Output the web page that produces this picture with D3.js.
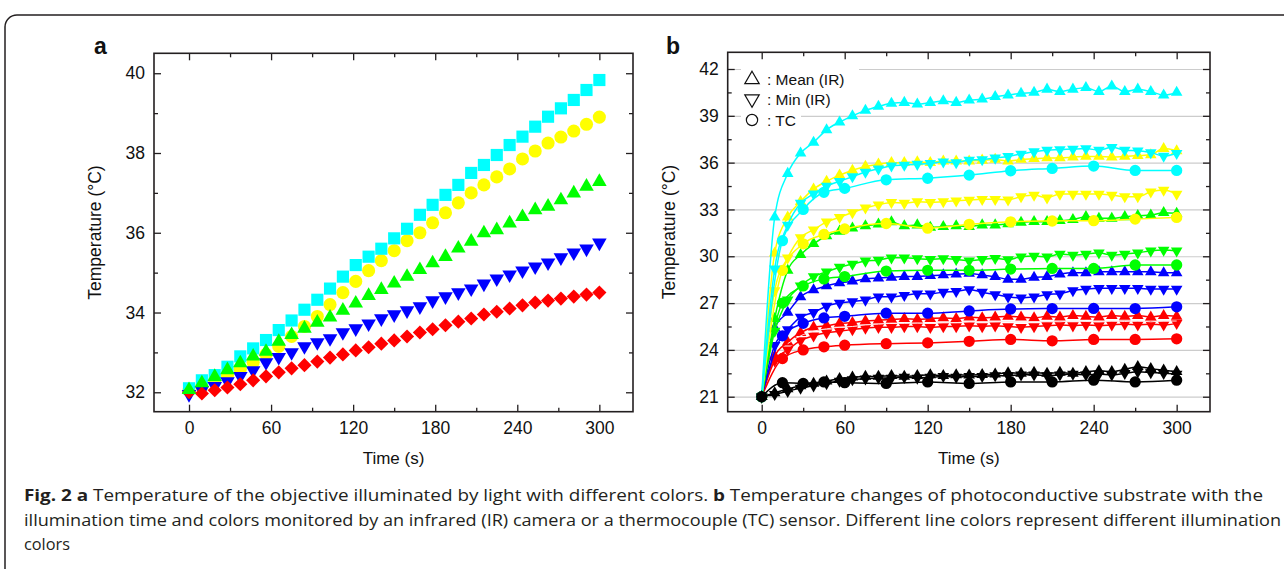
<!DOCTYPE html>
<html>
<head>
<meta charset="utf-8">
<script src="https://cdn.jsdelivr.net/npm/d3@7"></script>
<style>
  body { margin: 0; background: #fff; }
  svg { display: block; font-family: "Liberation Sans", Arial, sans-serif; }
</style>
</head>
<body>
<svg width="1284" height="569"></svg>
<script>
// sampling times (s)
const timeIR = [0, 9.4, 18.8, 28.1, 37.5, 46.9, 56.3, 65.6, 75, 84.4, 93.8, 103.1, 112.5, 121.9, 131.3, 140.6,
  150, 159.4, 168.8, 178.1, 187.5, 196.9, 206.3, 215.6, 225, 234.4, 243.8, 253.1, 262.5, 271.9, 281.3, 290.6, 300];
const timeTC = [0, 15, 30, 45, 60, 90, 120, 150, 180, 210, 240, 270, 300];

// panel a
const cyanA = [32.1, 32.3, 32.43, 32.64, 32.9, 33.1, 33.31, 33.56, 33.8, 34.07, 34.32, 34.6, 34.9, 35.19, 35.4, 35.6,
  35.86, 36.1, 36.45, 36.7, 36.95, 37.2, 37.5, 37.7, 37.95, 38.2, 38.41, 38.66, 38.91, 39.12, 39.33, 39.58, 39.83];
const yellowA = [32.05, 32.15, 32.28, 32.42, 32.58, 32.75, 32.95, 33.15, 33.4, 33.65, 33.9, 34.2, 34.5, 34.78, 35.05, 35.3,
  35.55, 35.8, 36.0, 36.25, 36.5, 36.75, 37.0, 37.2, 37.4, 37.6, 37.85, 38.05, 38.25, 38.4, 38.55, 38.72, 38.9];
const greenA = [32.06, 32.23, 32.39, 32.56, 32.73, 32.9, 33.02, 33.27, 33.44, 33.6, 33.75, 33.88, 34.05, 34.23, 34.42, 34.57,
  34.73, 34.9, 35.07, 35.24, 35.4, 35.61, 35.78, 35.99, 36.07, 36.24, 36.4, 36.57, 36.66, 36.82, 36.99, 37.16, 37.28];
const blueA = [31.95, 32.05, 32.15, 32.27, 32.4, 32.55, 32.75, 32.88, 33.0, 33.15, 33.25, 33.35, 33.5, 33.6, 33.72, 33.85,
  33.95, 34.05, 34.15, 34.3, 34.4, 34.5, 34.6, 34.72, 34.85, 34.95, 35.05, 35.15, 35.25, 35.38, 35.5, 35.6, 35.75];
const redA = [32.0, 31.97, 32.05, 32.12, 32.2, 32.3, 32.4, 32.5, 32.6, 32.68, 32.77, 32.87, 32.95, 33.05, 33.13, 33.22,
  33.3, 33.4, 33.5, 33.58, 33.68, 33.77, 33.85, 33.95, 34.02, 34.1, 34.18, 34.25, 34.3, 34.35, 34.4, 34.45, 34.5];

// panel b : mean (IR), min (IR), thermocouple
const cyanMean = [21, 32.5, 35.3, 36.6, 37.3, 38.1, 38.6, 39.0, 39.35, 39.6, 39.8, 39.85, 39.75, 39.85, 39.95, 39.85,
  40.0, 40.06, 40.22, 40.33, 40.44, 40.5, 40.7, 40.55, 40.7, 40.8, 40.55, 40.9, 40.55, 40.7, 40.55, 40.33, 40.5];
const cyanMin = [21, 29.2, 32.0, 33.4, 34.0, 34.5, 34.8, 35.1, 35.4, 35.6, 35.8, 35.85, 35.9, 35.95, 36.05, 36.0,
  36.17, 36.2, 36.3, 36.4, 36.55, 36.7, 36.8, 36.83, 36.87, 36.9, 36.8, 36.98, 36.8, 36.75, 36.65, 36.42, 36.6];
const cyanTC = [21, 31.0, 33.0, 34.1, 34.35, 34.9, 35.0, 35.2, 35.48, 35.63, 35.78, 35.5, 35.5];

const yellowMean = [21, 30.2, 32.5, 33.5, 34.3, 34.8, 35.2, 35.5, 35.75, 35.9, 36.0, 36.0, 36.05, 36.0, 36.1, 36.1,
  36.1, 36.15, 36.2, 36.1, 36.2, 36.25, 36.3, 36.3, 36.35, 36.4, 36.4, 36.35, 36.4, 36.45, 36.5, 36.9, 36.75];
const yellowMin = [21, 27.8, 29.9, 31.2, 31.7, 32.2, 32.5, 32.8, 33.1, 33.3, 33.45, 33.4, 33.5, 33.45, 33.5, 33.55,
  33.6, 33.65, 33.65, 33.62, 33.82, 33.92, 33.75, 33.99, 33.99, 33.99, 33.99, 33.92, 33.82, 33.82, 34.13, 34.24, 33.99];
const yellowTC = [21, 29.1, 30.8, 31.4, 31.75, 32.1, 31.8, 32.05, 32.21, 32.26, 32.28, 32.38, 32.49];

const greenMean = [21, 26.0, 29.1, 30.1, 30.8, 31.3, 31.6, 31.8, 31.95, 32.05, 32.2, 31.95, 32.0, 31.85, 31.9, 31.95,
  31.9, 32.0, 32.0, 32.08, 32.17, 32.22, 32.21, 32.28, 32.35, 32.53, 32.43, 32.43, 32.53, 32.6, 32.64, 32.79, 32.75];
const greenMin = [21, 25.2, 27.2, 28.1, 28.7, 29.0, 29.3, 29.5, 29.7, 29.75, 29.9, 29.9, 29.85, 29.8, 29.85, 29.8,
  29.71, 29.8, 29.87, 29.78, 29.97, 30.01, 29.97, 30.14, 30.08, 30.14, 30.22, 30.08, 30.14, 30.22, 30.35, 30.4, 30.35];
const greenTC = [21, 27.0, 28.1, 28.55, 28.7, 29.05, 29.1, 29.1, 29.18, 29.22, 29.22, 29.44, 29.44];

const blueMean = [21, 25.4, 26.4, 27.4, 27.85, 28.1, 28.3, 28.4, 28.55, 28.6, 28.65, 28.7, 28.7, 28.75, 28.8, 28.85,
  28.9, 28.8, 28.69, 28.52, 28.52, 28.65, 28.69, 28.86, 28.94, 28.94, 29.0, 29.0, 29.0, 29.0, 29.0, 28.94, 28.94];
const blueMin = [21, 24.3, 25.3, 26.1, 26.4, 26.8, 27.0, 27.1, 27.2, 27.4, 27.4, 27.5, 27.6, 27.6, 27.7, 27.75,
  27.87, 27.7, 27.55, 27.4, 27.33, 27.4, 27.55, 27.6, 27.8, 27.9, 27.95, 27.95, 27.95, 27.95, 27.9, 27.9, 27.9];
const blueTC = [21, 24.9, 25.7, 26.05, 26.15, 26.35, 26.35, 26.5, 26.62, 26.65, 26.66, 26.65, 26.76];

const redMean = [21, 23.6, 24.5, 25.1, 25.45, 25.55, 25.7, 25.75, 25.85, 25.9, 25.95, 26.0, 25.95, 26.0, 26.05, 26.0,
  26.1, 26.05, 26.1, 26.15, 26.1, 26.05, 26.15, 26.1, 26.2, 26.15, 26.1, 26.2, 26.15, 26.2, 26.1, 26.2, 26.15];
const redMin = [21, 23.3, 24.0, 24.6, 24.9, 25.1, 25.2, 25.3, 25.4, 25.45, 25.45, 25.5, 25.5, 25.45, 25.5, 25.5,
  25.55, 25.5, 25.55, 25.5, 25.45, 25.5, 25.55, 25.6, 25.55, 25.6, 25.55, 25.6, 25.65, 25.6, 25.65, 25.6, 25.7];
const redTC = [21, 23.45, 24.0, 24.2, 24.3, 24.4, 24.45, 24.55, 24.67, 24.58, 24.67, 24.67, 24.71];
// thin white trace running inside the red band (from 18.8 s on)
const redBand = [24.4, 24.9, 25.2, 25.35, 25.45, 25.5, 25.6, 25.65, 25.7, 25.7, 25.72, 25.7, 25.75, 25.75,
  25.8, 25.78, 25.8, 25.82, 25.78, 25.8, 25.82, 25.8, 25.85, 25.82, 25.8, 25.85, 25.82, 25.85, 25.8, 25.85, 25.85];

const blackMean = [21, 21.25, 21.5, 21.7, 21.85, 22.0, 22.15, 22.25, 22.3, 22.3, 22.35, 22.3, 22.35, 22.4, 22.35, 22.4,
  22.38, 22.42, 22.45, 22.53, 22.5, 22.55, 22.5, 22.55, 22.5, 22.6, 22.66, 22.6, 22.75, 22.92, 22.8, 22.7, 22.6];
const blackMin = [21, 21.15, 21.35, 21.55, 21.7, 21.85, 22.0, 22.1, 22.15, 22.2, 22.2, 22.25, 22.2, 22.25, 22.3, 22.25,
  22.3, 22.3, 22.35, 22.35, 22.4, 22.4, 22.35, 22.4, 22.45, 22.4, 22.45, 22.4, 22.5, 22.6, 22.55, 22.5, 22.45];
const blackTC = [21, 21.9, 21.85, 21.95, 21.9, 21.85, 21.95, 21.85, 21.95, 21.95, 22.06, 21.95, 22.06];

const xTicks = [0, 60, 120, 180, 240, 300];
const xMinor = [30, 90, 150, 210, 270];
const yTicksA = [32, 34, 36, 38, 40];
const yMinorA = [33, 35, 37, 39];
const yTicksB = [21, 24, 27, 30, 33, 36, 39, 42];
const yMinorB = [22.5, 25.5, 28.5, 31.5, 34.5, 37.5, 40.5];

const ink = '#231f20';
const svg = d3.select('svg');

// outer rounded box
svg.append('rect')
  .attr('x', 5).attr('y', 15).attr('width', 1320).attr('height', 620).attr('rx', 12)
  .attr('fill', 'none').attr('stroke', ink).attr('stroke-width', 1.5);

function frame(box, xDom, yDom, yTicks, yMinor, grid) {
  const x = d3.scaleLinear().domain(xDom).range([box.left, box.right]);
  const y = d3.scaleLinear().domain(yDom).range([box.bottom, box.top]);
  const w = box.right - box.left;
  const h = box.bottom - box.top;
  const g = svg.append('g');

  if (grid) {
    g.append('g')
      .attr('transform', `translate(${box.left},0)`)
      .call(d3.axisLeft(y).tickValues(yTicks).tickSize(-w).tickFormat(''))
      .call((s) => s.select('.domain').remove())
      .selectAll('.tick line').attr('stroke', '#cccccc').attr('stroke-width', 1.2);
  }

  const axes = g.append('g').attr('class', 'axes');
  const fix = (s) => {
    s.select('.domain').remove();
    s.selectAll('.tick line').attr('stroke', ink).attr('stroke-width', 1.3);
    s.selectAll('text').attr('fill', '#111').attr('font-size', 17.5);
  };
  axes.append('g').attr('transform', `translate(0,${box.bottom})`)
    .call(d3.axisBottom(x).tickValues(xTicks).tickSize(-7).tickPadding(10)).call(fix);
  axes.append('g').attr('transform', `translate(0,${box.bottom})`)
    .call(d3.axisBottom(x).tickValues(xMinor).tickSize(-4).tickFormat('')).call(fix);
  axes.append('g').attr('transform', `translate(0,${box.top})`)
    .call(d3.axisTop(x).tickValues(xTicks).tickSize(-7).tickFormat('')).call(fix);
  axes.append('g').attr('transform', `translate(0,${box.top})`)
    .call(d3.axisTop(x).tickValues(xMinor).tickSize(-4).tickFormat('')).call(fix);
  axes.append('g').attr('transform', `translate(${box.left},0)`)
    .call(d3.axisLeft(y).tickValues(yTicks).tickSize(-7).tickPadding(9)).call(fix);
  axes.append('g').attr('transform', `translate(${box.left},0)`)
    .call(d3.axisLeft(y).tickValues(yMinor).tickSize(-4).tickFormat('')).call(fix);
  axes.append('g').attr('transform', `translate(${box.right},0)`)
    .call(d3.axisRight(y).tickValues(yTicks).tickSize(-7).tickFormat('')).call(fix);
  axes.append('g').attr('transform', `translate(${box.right},0)`)
    .call(d3.axisRight(y).tickValues(yMinor).tickSize(-4).tickFormat('')).call(fix);

  g.append('rect')
    .attr('x', box.left).attr('y', box.top).attr('width', w).attr('height', h)
    .attr('fill', 'none').attr('stroke', ink).attr('stroke-width', 1.6);

  g.append('text')
    .attr('x', (box.left + box.right) / 2).attr('y', box.bottom + 52)
    .attr('text-anchor', 'middle').attr('font-size', 17).attr('fill', '#111')
    .text('Time (s)');
  g.append('text')
    .attr('transform', `translate(${box.left - 53},${(box.top + box.bottom) / 2}) rotate(-90)`)
    .attr('text-anchor', 'middle').attr('font-size', 17.5).attr('fill', '#111')
    .text('Temperature (°C)');

  return { x, y, g };
}

function marks(g, x, y, times, vals, type, size, color, rot) {
  const sym = d3.symbol(type, size)();
  g.append('g').selectAll('path')
    .data(vals)
    .join('path')
    .attr('d', sym)
    .attr('fill', color)
    .attr('transform', (d, i) => `translate(${x(times[i])},${y(d)}) rotate(${rot || 0})`);
}

function trace(g, x, y, times, vals, color, width) {
  const line = d3.line()
    .x((d, i) => x(times[i]))
    .y((d) => y(d))
    .curve(d3.curveMonotoneX);
  g.append('path')
    .attr('d', line(vals))
    .attr('fill', 'none')
    .attr('stroke', color)
    .attr('stroke-width', width || 1.5);
}

// ---- panel a ----
const A = frame({ left: 154, right: 633, top: 53.3, bottom: 411.7 }, [-25.6, 324.6], [31.513, 40.5],
  yTicksA, yMinorA, false);
const dataA = A.g.append('g');
marks(dataA, A.x, A.y, timeIR, yellowA, d3.symbolCircle, 135, '#ffff00');
marks(dataA, A.x, A.y, timeIR, cyanA, d3.symbolSquare, 148, '#00ffff');
marks(dataA, A.x, A.y, timeIR, blueA, d3.symbolTriangle, 92, '#0000ff', 180);
marks(dataA, A.x, A.y, timeIR, redA, d3.symbolSquare, 100, '#ff0000', 45);
marks(dataA, A.x, A.y, timeIR, greenA, d3.symbolTriangle, 92, '#00ff00');

svg.append('text').attr('x', 94).attr('y', 54).attr('font-size', 23).attr('font-weight', 'bold')
  .attr('fill', '#111').text('a');

// ---- panel b ----
const B = frame({ left: 727.7, right: 1210, top: 52.3, bottom: 411.7 }, [-24.58, 324.1], [20.04, 43.07],
  yTicksB, yMinorB, true);
const dataB = B.g.append('g');
const seriesB = [
  { color: '#ff0000', mean: redMean, min: redMin, tc: redTC },
  { color: '#0000ff', mean: blueMean, min: blueMin, tc: blueTC },
  { color: '#00ff00', mean: greenMean, min: greenMin, tc: greenTC },
  { color: '#ffff00', mean: yellowMean, min: yellowMin, tc: yellowTC },
  { color: '#00ffff', mean: cyanMean, min: cyanMin, tc: cyanTC },
  { color: '#000000', mean: blackMean, min: blackMin, tc: blackTC },
];
seriesB.forEach((s) => {
  trace(dataB, B.x, B.y, timeTC, s.tc, s.color);
  trace(dataB, B.x, B.y, timeIR, s.min, s.color);
  trace(dataB, B.x, B.y, timeIR, s.mean, s.color);
  marks(dataB, B.x, B.y, timeTC, s.tc, d3.symbolCircle, 100, s.color);
  marks(dataB, B.x, B.y, timeIR, s.min, d3.symbolTriangle, 58, s.color, 180);
  marks(dataB, B.x, B.y, timeIR, s.mean, d3.symbolTriangle, 58, s.color);
  if (s.color === '#ff0000') {
    trace(dataB, B.x, B.y, timeIR.slice(2), redBand, '#ffe6e6', 1);
  }
});

// legend
const legend = B.g.append('g');
const legendItems = [
  { label: ': Mean (IR)', type: d3.symbolTriangle, rot: 0, y: 79.5, w: 118 },
  { label: ': Min (IR)', type: d3.symbolTriangle, rot: 180, y: 99, w: 96 },
  { label: ': TC', type: d3.symbolCircle, rot: 0, y: 120, w: 60 },
];
legendItems.forEach((d) => {
  legend.append('rect').attr('x', 741).attr('y', d.y - 11).attr('width', d.w).attr('height', 22).attr('fill', '#fff');
  legend.append('path')
    .attr('d', d3.symbol(d.type, d.type === d3.symbolCircle ? 100 : 90)())
    .attr('transform', `translate(752,${d.y}) rotate(${d.rot})`)
    .attr('fill', '#fff').attr('stroke', '#111').attr('stroke-width', 1.2);
  legend.append('text').attr('x', 767).attr('y', d.y + 5.5).attr('font-size', 15.5).attr('fill', '#111')
    .text(d.label);
});

svg.append('text').attr('x', 666).attr('y', 54).attr('font-size', 23).attr('font-weight', 'bold')
  .attr('fill', '#111').text('b');

// ---- caption ----
const cap = svg.append('g').attr('font-family', '"Open Sans", "Noto Sans", sans-serif')
  .attr('font-size', 15.5).attr('fill', ink);
const l1 = cap.append('text').attr('x', 24).attr('y', 501)
  .attr('textLength', 1239).attr('lengthAdjust', 'spacingAndGlyphs');
l1.append('tspan').attr('font-weight', 'bold').text('Fig. 2 a');
l1.append('tspan').text(' Temperature of the objective illuminated by light with different colors. ');
l1.append('tspan').attr('font-weight', 'bold').text('b');
l1.append('tspan').text(' Temperature changes of photoconductive substrate with the');
cap.append('text').attr('x', 24).attr('y', 526)
  .attr('textLength', 1257).attr('lengthAdjust', 'spacingAndGlyphs')
  .text('illumination time and colors monitored by an infrared (IR) camera or a thermocouple (TC) sensor. Different line colors represent different illumination');
cap.append('text').attr('x', 24).attr('y', 550).text('colors')
  .attr('textLength', 46).attr('lengthAdjust', 'spacingAndGlyphs');
</script>
</body>
</html>
